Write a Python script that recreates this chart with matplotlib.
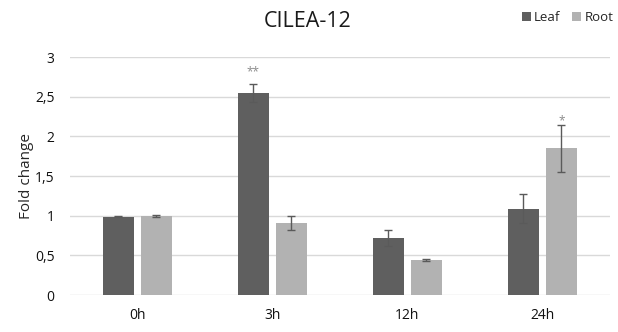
import matplotlib.pyplot as plt
import numpy as np

times = ["0h", "3h", "12h", "24h"]
leaf = [0.99, 2.55, 0.72, 1.09]
leaf_err = [0.01, 0.11, 0.105, 0.185]
root = [0.995, 0.91, 0.445, 1.85]
root_err = [0.01, 0.09, 0.01, 0.30]
leaf_marks = ["", "**", "", ""]
root_marks = ["", "", "", "*"]

plt.rcParams["font.family"] = ["Open Sans", "DejaVu Sans"]

fig = plt.figure(figsize=(6.18, 3.32), dpi=100)
ax = fig.add_axes([0.113, 0.111, 0.874, 0.717])

x = np.arange(len(times))
w = 0.225
off = 0.141
err_kw = dict(ecolor="#5a5a5a", elinewidth=1.0, capsize=3, capthick=1.0)
ax.bar(x - off, leaf, w, yerr=leaf_err, color="#5f5f5f", label="Leaf",
       error_kw=err_kw, zorder=3)
ax.bar(x + off, root, w, yerr=root_err, color="#b2b2b2", label="Root",
       error_kw=err_kw, zorder=3)

# significance stars above the error caps
for xi, v, e, m in zip(x - off, leaf, leaf_err, leaf_marks):
    if m:
        ax.text(xi, v + e + 0.07, m, ha="center", va="bottom", fontsize=8.5, color="#8a8a8a")
for xi, v, e, m in zip(x + off, root, root_err, root_marks):
    if m:
        ax.text(xi, v + e - 0.03, m, ha="center", va="bottom", fontsize=8.5, color="#8a8a8a")

ax.set_xlim(-0.5, 3.5)
ax.set_ylim(0, 3)
ax.set_yticks(np.arange(0, 3.01, 0.5))
ax.set_yticklabels(["0", "0,5", "1", "1,5", "2", "2,5", "3"])
ax.set_xticks(x)
ax.set_xticklabels(times)
ax.yaxis.grid(True, color="#d9d9d9", linewidth=1.0, zorder=0)
ax.tick_params(length=0, labelsize=10, colors="#111111")
ax.tick_params(axis="x", pad=9)
ax.tick_params(axis="y", pad=11)
for s in ax.spines.values():
    s.set_visible(False)

ax.set_ylabel("Fold change", fontsize=11, color="#262626", labelpad=1)
fig.text(0.497, 0.935, "CILEA-12", ha="center", va="center", fontsize=15.5, color="#1a1a1a")

ax.legend(loc="center right", bbox_to_anchor=(1.028, 1.165), ncol=2, frameon=False,
          fontsize=9.5, handlelength=0.65, handleheight=0.65, handletextpad=0.25,
          columnspacing=0.9, labelcolor="#262626")

fig.savefig("out.png", dpi=100)
